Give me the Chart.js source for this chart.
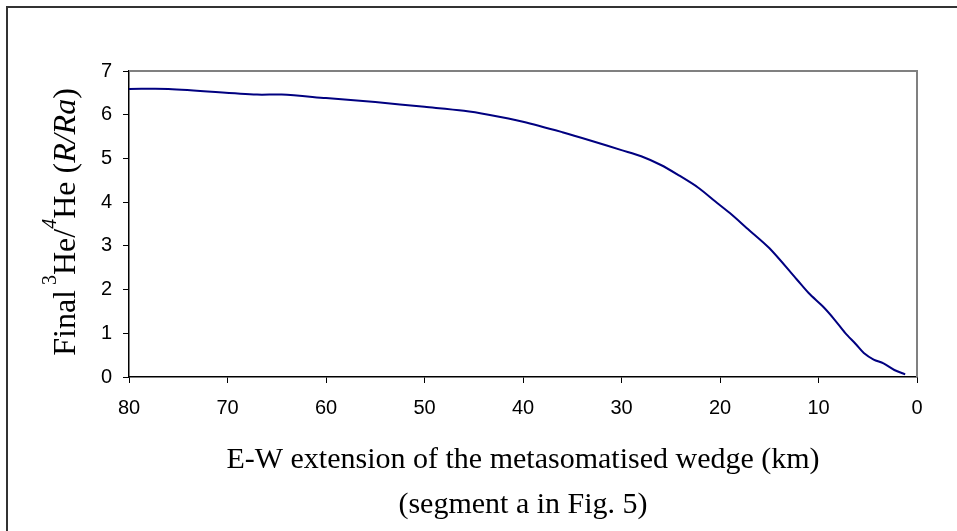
<!DOCTYPE html>
<html>
<head>
<meta charset="utf-8">
<script src="https://cdn.jsdelivr.net/npm/chart.js@4.4.1/dist/chart.umd.min.js"></script>
<style>
  html, body { margin: 0; padding: 0; background: #fff; }
  #wrap { position: relative; width: 957px; height: 531px; overflow: hidden; }
  #frame { position: absolute; left: 6px; top: 6px; right: -10px; bottom: -10px;
           border-top: 2px solid #333; border-left: 2px solid #333; }
  canvas { position: absolute; left: 0; top: 0; }
</style>
</head>
<body>
<div id="wrap">
  <div id="frame"></div>
  <canvas id="heChart" width="957" height="531"></canvas>
</div>
<script>
// distance along the wedge (km) and final 3He/4He ratio (R/Ra)
const distanceKm = [80, 76, 67, 64.5, 60, 55, 50, 46, 43.5, 40, 36, 33, 30, 28, 26, 24.3,
  22.2, 20.5, 19, 17.3, 15, 12.2, 11, 9.5, 8.4, 7.3, 6.2, 5.4, 4.4, 3.4, 2.3, 1.2];
const heRatio = [6.59, 6.59, 6.46, 6.46, 6.38, 6.29, 6.18, 6.09, 6.00, 5.84, 5.60, 5.40, 5.19, 5.05, 4.85, 4.63,
  4.33, 4.02, 3.75, 3.41, 2.95, 2.23, 1.92, 1.60, 1.32, 1.01, 0.75, 0.55, 0.40, 0.31, 0.16, 0.06];
const xTitle = ['E-W extension of the metasomatised wedge (km)', '(segment a in Fig. 5)'];

// gray box on top and right of plot area
const plotBox = {
  id: 'plotBox',
  beforeDatasetsDraw(chart) {
    const { ctx, chartArea: a } = chart;
    ctx.save();
    ctx.strokeStyle = '#808080';
    ctx.lineWidth = 2;
    ctx.beginPath();
    ctx.moveTo(a.left, a.top);
    ctx.lineTo(a.right, a.top);
    ctx.lineTo(a.right, a.bottom);
    ctx.stroke();
    ctx.restore();
  }
};

// y title with superscripts and italics
const yTitle = {
  id: 'yTitle',
  afterDraw(chart) {
    const ctx = chart.ctx;
    const runs = [
      { t: 'Final', f: '32px "Liberation Serif"', dy: 0 },
      { t: ' 3', f: '20px "Liberation Serif"', dy: -19 },
      { t: 'He/', f: '32px "Liberation Serif"', dy: 0 },
      { t: '4', f: 'italic 20px "Liberation Serif"', dy: -19 },
      { t: 'He (', f: '32px "Liberation Serif"', dy: 0 },
      { t: 'R/Ra', f: 'italic 32px "Liberation Serif"', dy: 0 },
      { t: ')', f: '32px "Liberation Serif"', dy: 0 }
    ];
    ctx.save();
    let total = 0;
    runs.forEach(r => { ctx.font = r.f; r.w = ctx.measureText(r.t).width; total += r.w; });
    ctx.translate(64, 222);
    ctx.rotate(-Math.PI / 2);
    ctx.fillStyle = '#000';
    ctx.textBaseline = 'alphabetic';
    let x = -total / 2;
    runs.forEach(r => { ctx.font = r.f; ctx.fillText(r.t, x, 11 + r.dy); x += r.w; });
    ctx.restore();
  }
};

new Chart(document.getElementById('heChart'), {
  type: 'line',
  data: {
    datasets: [{
      data: distanceKm.map((d, i) => ({ x: d, y: heRatio[i] })),
      borderColor: '#000080',
      borderWidth: 2,
      tension: 0.3,
      fill: false,
      pointRadius: 0
    }]
  },
  options: {
    responsive: false,
    animation: false,
    layout: { padding: { top: 71, right: 40, left: 0, bottom: 0 } },
    plugins: { legend: { display: false }, tooltip: { enabled: false } },
    scales: {
      x: {
        type: 'linear',
        reverse: true,
        min: 0,
        max: 80,
        afterFit: s => { s.height = 154; },
        ticks: { stepSize: 10, color: '#000', padding: 13, maxRotation: 0,
                 font: { family: '"Liberation Sans", Arial', size: 20 } },
        grid: { drawOnChartArea: false, tickLength: 6, color: '#000' },
        border: { color: '#000', width: 1.5 },
        title: {
          display: true,
          text: xTitle,
          color: '#000',
          font: { family: '"Liberation Serif", "Times New Roman"', size: 30, lineHeight: 1.5 },
          padding: { top: 0, bottom: 3 }
        }
      },
      y: {
        min: 0,
        max: 7,
        afterFit: s => { s.width = 129; },
        ticks: { stepSize: 1, color: '#000', padding: 11,
                 font: { family: '"Liberation Sans", Arial', size: 20 } },
        grid: { drawOnChartArea: false, tickLength: 6, color: '#000' },
        border: { color: '#000', width: 1.5 }
      }
    }
  },
  plugins: [plotBox, yTitle]
});
</script>
</body>
</html>
